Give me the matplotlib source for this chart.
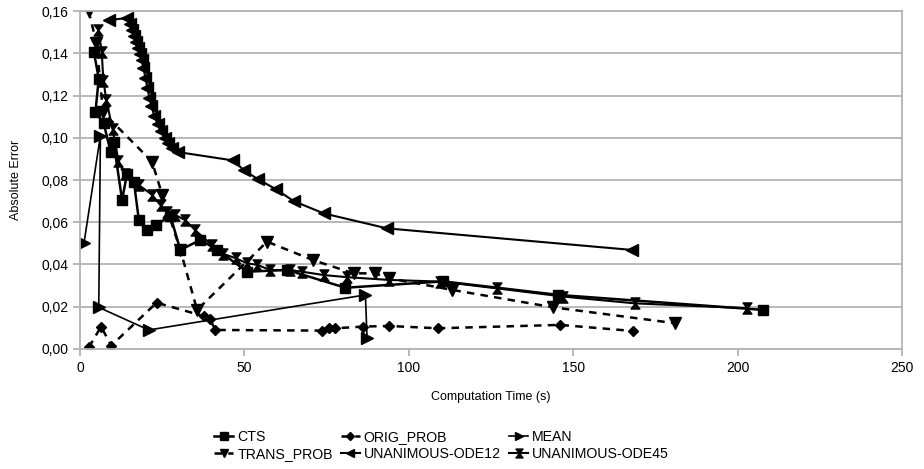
import matplotlib
matplotlib.use("Agg")
import matplotlib.pyplot as plt
from matplotlib.path import Path
from matplotlib.ticker import FuncFormatter

plt.rcParams['font.family'] = ['Liberation Sans', 'DejaVu Sans']

# ---- data ----
cts_x = [4.2, 5.7, 4.7, 7.2, 9.3, 10.2, 12.8, 14.3, 16.4, 17.9, 20.4, 23.0, 27.5, 30.5,
         36.6, 41.7, 50.8, 63.0, 80.7, 110.5, 145.5, 207.8]
cts_y = [0.1407, 0.128, 0.1123, 0.1068, 0.0934, 0.098, 0.0705, 0.083, 0.079, 0.061,
         0.0563, 0.0587, 0.063, 0.0469, 0.0516, 0.047, 0.0366, 0.0374, 0.029, 0.032,
         0.0256, 0.0185]

orig_x = [2.7, 6.4, 9.5, 23.3, 37.6, 39.5, 41.2, 73.6, 75.6, 77.7, 86.0, 93.9, 108.8, 146.0, 168.3]
orig_y = [0.0008, 0.0106, 0.0016, 0.0219, 0.0156, 0.014, 0.009, 0.0087, 0.0098, 0.0098,
          0.0106, 0.0109, 0.0098, 0.0114, 0.0085]

mean_x = [1.2, 6.2, 5.7, 20.9, 86.8, 87.3]
mean_y = [0.050, 0.101, 0.0197, 0.009, 0.0256, 0.005]

trans_x = [2.6, 5.0, 7.0, 21.9, 25.0, 30.5, 35.6, 56.9, 71.0, 83.2, 89.8, 93.9, 113.1, 144.0, 181.0]
trans_y = [0.160, 0.145, 0.112, 0.0887, 0.073, 0.047, 0.0185, 0.0508, 0.042, 0.0358, 0.0358,
           0.0335, 0.028, 0.0197, 0.0122]

ode12_x = [8.7, 14.4, 15.1, 15.7, 16.3, 16.9, 17.5, 18.1, 18.7, 19.3, 19.9, 20.5, 21.1, 21.7,
           22.6, 23.6, 24.5, 25.7, 26.9, 28.1, 29.9, 46.4, 50.0, 54.0, 59.5, 65.0, 74.1, 93.4, 167.8]
ode12_y = [0.1557, 0.1567, 0.1538, 0.1510, 0.1482, 0.1453, 0.1425, 0.1396, 0.1368, 0.1330,
           0.1283, 0.1236, 0.1188, 0.1150, 0.1103, 0.1065, 0.1032, 0.0999, 0.0975, 0.0951,
           0.0932, 0.0893, 0.0845, 0.0805, 0.0757, 0.0700, 0.0642, 0.0571, 0.0469]

ode45_x = [5.6, 6.6, 7.1, 8.0, 9.9, 11.7, 13.8, 17.8, 21.9, 24.5, 26.5, 29.0, 32.0, 35.0,
           40.2, 43.6, 47.3, 50.8, 53.9, 57.9, 64.0, 67.5, 74.1, 81.2, 93.9, 109.6, 126.8,
           147.0, 168.8, 202.8]
ode45_y = [0.151, 0.1407, 0.127, 0.118, 0.104, 0.089, 0.083, 0.0777, 0.073, 0.068, 0.065,
           0.0634, 0.061, 0.0563, 0.049, 0.045, 0.043, 0.0406, 0.0398, 0.0374, 0.0374, 0.0366,
           0.035, 0.034, 0.0327, 0.0319, 0.0287, 0.0248, 0.0216, 0.0193]

x_ticks = [0, 50, 100, 150, 200, 250]
y_ticks = [0.00, 0.02, 0.04, 0.06, 0.08, 0.10, 0.12, 0.14, 0.16]

# hourglass marker
hourglass = Path([(-0.8, 1), (0.8, 1), (0.08, 0.05), (0.08, -0.05), (0.8, -1), (-0.8, -1),
                  (-0.08, -0.05), (-0.08, 0.05), (-0.8, 1)],
                 [Path.MOVETO] + [Path.LINETO] * 7 + [Path.CLOSEPOLY])

fig = plt.figure(figsize=(9.24, 4.69), dpi=100)
ax = fig.add_axes([0.0866, 0.2559, 0.8896, 0.7206])

dash = (0, (3, 2.5))
h_cts, = ax.plot(cts_x, cts_y, color='black', lw=1.8, marker='s', ms=7.5, label='CTS')
h_orig, = ax.plot(orig_x, orig_y, color='black', lw=1.8, ls=dash, marker='D', ms=5.5, label='ORIG_PROB')
h_mean, = ax.plot(mean_x, mean_y, color='black', lw=1.2, marker='>', ms=8, label='MEAN')
h_trans, = ax.plot(trans_x, trans_y, color='black', lw=1.8, ls=dash, marker='v', ms=8, label='TRANS_PROB')
h_12, = ax.plot(ode12_x, ode12_y, color='black', lw=1.5, marker='<', ms=8, label='UNANIMOUS-ODE12')
h_45, = ax.plot(ode45_x, ode45_y, color='black', lw=1.5, marker=hourglass, ms=8, label='UNANIMOUS-ODE45')

ax.set_xlim(0, 250)
ax.set_ylim(0, 0.16)
ax.set_xticks(x_ticks)
ax.set_yticks(y_ticks)
ax.yaxis.set_major_formatter(FuncFormatter(lambda v, p: f"{v:.2f}".replace('.', ',')))
ax.grid(axis='y', color='#b3b3b3', lw=1.3)
ax.set_axisbelow(True)
for s in ax.spines.values():
    s.set_color('#b3b3b3')
    s.set_linewidth(1.3)
ax.tick_params(axis='both', colors='#b3b3b3', labelcolor='black', labelsize=10, length=5, width=1.3)
ax.set_xlabel('Computation Time (s)', fontsize=9, labelpad=12)
ax.set_ylabel('Absolute Error', fontsize=9, labelpad=14)

handles = [h_cts, h_trans, h_orig, h_12, h_mean, h_45]
fig.legend(handles, [h.get_label() for h in handles], ncol=3, loc='center',
           bbox_to_anchor=(0.478, 0.05), frameon=False, fontsize=10.2, handlelength=1.3,
           markerscale=0.8, columnspacing=0.6, handletextpad=0.3, labelspacing=0.2)

fig.savefig('out.png', dpi=100)
